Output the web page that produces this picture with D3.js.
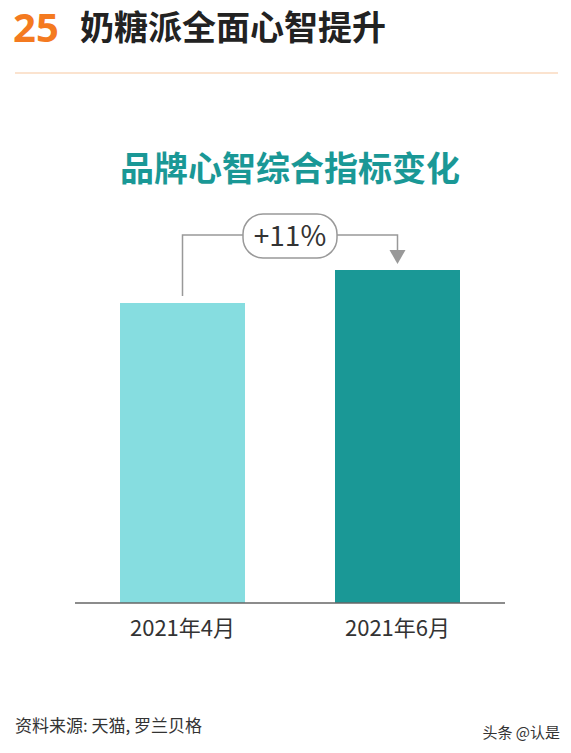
<!DOCTYPE html>
<html><head><meta charset="utf-8">
<script src="https://cdn.jsdelivr.net/npm/d3@7"></script>
<style>body{margin:0;background:#fff}svg{display:block}</style>
</head><body>
<script>
// data
const periods = ['2021年4月', '2021年6月'];
const indexValues = [100, 111];
const barColors = ['#86dde0', '#1a9896'];
const changeLabel = '+11%';

const W = 571, H = 753;
const font = '"Noto Sans CJK SC", "Noto Sans", sans-serif';
const svg = d3.select('body').append('svg').attr('width', W).attr('height', H);

// header
svg.append('text').attr('x', 13).attr('y', 42).attr('font-family', '"Noto Sans", sans-serif')
  .attr('font-size', 40).attr('font-weight', 700).attr('fill', '#f47a20').text('25');
svg.append('text').attr('x', 80).attr('y', 40).attr('font-family', font)
  .attr('font-size', 34).attr('font-weight', 700).attr('fill', '#222').text('奶糖派全面心智提升');
svg.append('line').attr('x1', 15).attr('x2', 558).attr('y1', 73).attr('y2', 73)
  .attr('stroke', '#fbe3cf').attr('stroke-width', 2);

svg.append('text').attr('x', 290).attr('y', 181).attr('text-anchor', 'middle')
  .attr('font-family', font).attr('font-size', 34).attr('font-weight', 700)
  .attr('fill', '#1a9896').text('品牌心智综合指标变化');

const x = d3.scaleBand().domain(periods).range([75, 505]).paddingInner(0.4186).paddingOuter(0.2093);
const y = d3.scaleLinear().domain([0, 111]).range([603, 270]);

svg.selectAll('rect.bar').data(periods).enter().append('rect')
  .attr('x', d => x(d)).attr('width', x.bandwidth())
  .attr('y', (d, i) => y(indexValues[i])).attr('height', (d, i) => y(0) - y(indexValues[i]))
  .attr('fill', (d, i) => barColors[i]);

svg.append('line').attr('x1', 75).attr('x2', 505).attr('y1', y(0)).attr('y2', y(0))
  .attr('stroke', '#666').attr('stroke-width', 1.5);

svg.selectAll('text.lab').data(periods).enter().append('text')
  .attr('x', d => x(d) + x.bandwidth() / 2).attr('y', 636).attr('text-anchor', 'middle')
  .attr('font-family', font).attr('font-size', 22).attr('fill', '#333').text(d => d);

// change annotation
const x1 = x(periods[0]) + x.bandwidth() / 2, x2 = x(periods[1]) + x.bandwidth() / 2;
const ly = 235;
svg.append('path')
  .attr('d', `M${x1},${y(indexValues[0]) - 7}V${ly}H${x2}V${y(indexValues[1]) - 18}`)
  .attr('fill', 'none').attr('stroke', '#999').attr('stroke-width', 1.5);
svg.append('path')
  .attr('d', `M${x2 - 8},${y(indexValues[1]) - 20}L${x2 + 8},${y(indexValues[1]) - 20}L${x2},${y(indexValues[1]) - 6}Z`)
  .attr('fill', '#999');
const bx = (x1 + x2) / 2;
svg.append('rect').attr('x', bx - 47).attr('y', 214).attr('width', 94).attr('height', 44)
  .attr('rx', 20).attr('fill', '#fff').attr('stroke', '#999').attr('stroke-width', 1.5);
svg.append('text').attr('x', bx).attr('y', 246).attr('text-anchor', 'middle')
  .attr('font-family', font).attr('font-size', 28).attr('fill', '#333').text(changeLabel);

svg.append('text').attr('x', 15).attr('y', 732).attr('font-family', font)
  .attr('font-size', 17).attr('fill', '#333').text('资料来源: 天猫, 罗兰贝格');
svg.append('text').attr('x', 560).attr('y', 738).attr('text-anchor', 'end').attr('font-family', font)
  .attr('font-size', 15).attr('fill', '#333').text('头条 @认是');
</script>
</body></html>
